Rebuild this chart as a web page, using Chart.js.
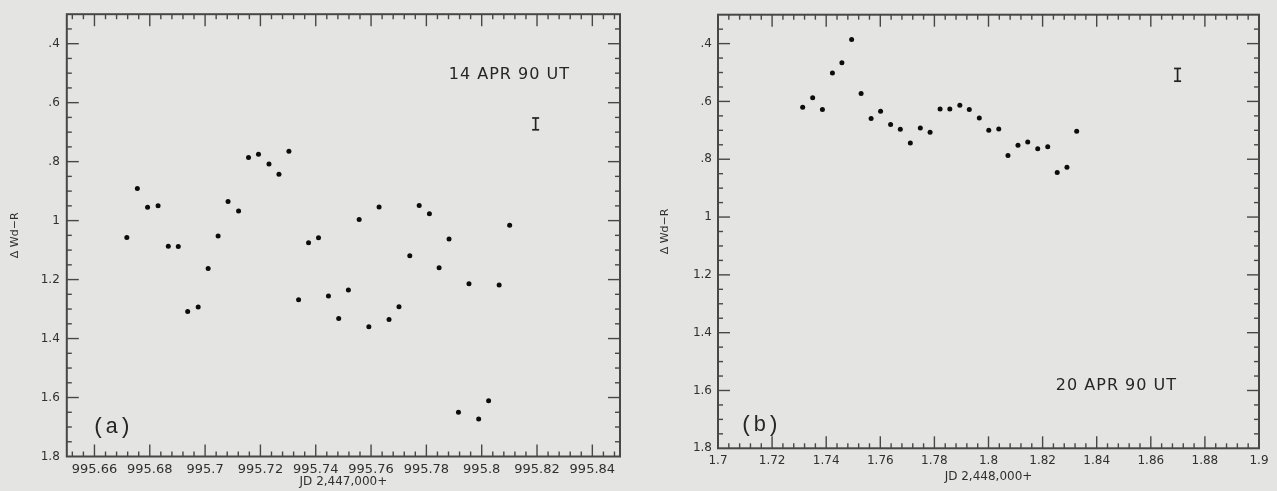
<!DOCTYPE html>
<html>
<head>
<meta charset="utf-8">
<script src="https://cdn.jsdelivr.net/npm/chart.js@4.4.1/dist/chart.umd.min.js"></script>
<style>
  html, body { margin: 0; padding: 0; background: #e4e4e2; width: 1277px; height: 491px; overflow: hidden; }
  canvas { position: absolute; top: 0; filter: blur(0.35px); }
  #panelA { left: 0; }
  #panelB { left: 640px; }
</style>
</head>
<body>
<canvas id="panelA" width="640" height="491"></canvas>
<canvas id="panelB" width="637" height="491"></canvas>
<script>
// (a) 14 Apr 1990 — time (JD − 2,447,000) and differential colour Δ(Wd−R)
const jdA = [995.6717, 995.6755, 995.6792, 995.6830, 995.6867, 995.6903, 995.6937, 995.6975, 995.7011, 995.7047,
             995.7083, 995.7121, 995.7157, 995.7193, 995.7231, 995.7267, 995.7303, 995.7338, 995.7374, 995.7410,
             995.7446, 995.7483, 995.7518, 995.7557, 995.7592, 995.7629, 995.7665, 995.7701, 995.7740, 995.7774,
             995.7811, 995.7846, 995.7882, 995.7916, 995.7954, 995.7989, 995.8025, 995.8063, 995.8101];
const magA = [1.057, 0.891, 0.955, 0.950, 1.087, 1.088, 1.308, 1.293, 1.162, 1.052,
              0.935, 0.967, 0.786, 0.775, 0.808, 0.843, 0.765, 1.268, 1.075, 1.058,
              1.256, 1.332, 1.235, 0.996, 1.360, 0.954, 1.335, 1.292, 1.119, 0.949,
              0.977, 1.160, 1.062, 1.650, 1.214, 1.673, 1.611, 1.218, 1.016];

// (b) 20 Apr 1990 — time (JD − 2,448,000) and Δ(Wd−R)
const jdB = [1.7313, 1.7350, 1.7386, 1.7423, 1.7458, 1.7494, 1.7529, 1.7566, 1.7601, 1.7638,
             1.7674, 1.7711, 1.7748, 1.7784, 1.7821, 1.7857, 1.7894, 1.7929, 1.7966, 1.8001,
             1.8038, 1.8072, 1.8109, 1.8145, 1.8182, 1.8219, 1.8254, 1.8290, 1.8326];
const magB = [0.620, 0.587, 0.628, 0.502, 0.466, 0.386, 0.573, 0.659, 0.634, 0.680,
              0.696, 0.744, 0.692, 0.707, 0.626, 0.626, 0.613, 0.628, 0.657, 0.700,
              0.695, 0.787, 0.752, 0.740, 0.764, 0.757, 0.846, 0.828, 0.703];

// Labelled tick values
const xTicksA = [995.66, 995.68, 995.70, 995.72, 995.74, 995.76, 995.78, 995.80, 995.82, 995.84];
const xTicksB = [1.70, 1.72, 1.74, 1.76, 1.78, 1.80, 1.82, 1.84, 1.86, 1.88, 1.90];
const yTicks  = [0.4, 0.6, 0.8, 1.0, 1.2, 1.4, 1.6, 1.8];

// Typical error bar: [x, centre, half-height]
const errA = [995.8195, 0.672, 0.020];
const errB = [1.8699, 0.508, 0.022];

// In-plot labels: [text, x, y]
const dateA = ['14 APR 90 UT', 995.810, 0.504];
const dateB = ['20 APR 90 UT', 1.8473, 1.5835];
const tagA  = ['(a)', 995.6663, 1.700];
const tagB  = ['(b)', 1.7155, 1.719];

const INK = '#474747';
const LABEL = '#303030';

// Box frame with inward major/minor ticks on all four sides, plus error bar and labels
const frameTicks = {
  id: 'frameTicks',
  afterDatasetsDraw(chart, args, o) {
    const { ctx, chartArea: a, scales: { x, y } } = chart;
    const seg = (x1, y1, x2, y2) => { ctx.beginPath(); ctx.moveTo(x1, y1); ctx.lineTo(x2, y2); ctx.stroke(); };
    ctx.save();
    ctx.strokeStyle = INK;
    ctx.lineWidth = 1.4;

    const kx0 = Math.ceil(x.min / o.xMinor - 1e-6), kx1 = Math.floor(x.max / o.xMinor + 1e-6);
    for (let k = kx0; k <= kx1; k++) {
      const px = x.getPixelForValue(k * o.xMinor);
      if (px <= a.left + 1.5 || px >= a.right - 1.5) continue;
      const len = k % o.xEvery === 0 ? 12 : 5;
      seg(px, a.bottom, px, a.bottom - len);
      seg(px, a.top, px, a.top + len);
    }
    const ky0 = Math.ceil(y.min / o.yMinor - 1e-6), ky1 = Math.floor(y.max / o.yMinor + 1e-6);
    for (let k = ky0; k <= ky1; k++) {
      const py = y.getPixelForValue(k * o.yMinor);
      if (py <= a.top + 1.5 || py >= a.bottom - 1.5) continue;
      const len = k % o.yEvery === 0 ? 12 : 5;
      seg(a.left, py, a.left + len, py);
      seg(a.right, py, a.right - len, py);
    }

    ctx.lineWidth = 2;
    ctx.strokeRect(a.left, a.top, a.right - a.left, a.bottom - a.top);

    // error bar
    const [ex, ec, eh] = o.err;
    const bx = x.getPixelForValue(ex);
    const t = y.getPixelForValue(ec - eh), b = y.getPixelForValue(ec + eh);
    ctx.strokeStyle = '#222';
    ctx.lineWidth = 1.7;
    seg(bx, t, bx, b);
    seg(bx - 3.5, t, bx + 3.5, t);
    seg(bx - 3.5, b, bx + 3.5, b);

    // labels
    ctx.fillStyle = '#262626';
    ctx.textAlign = 'center';
    ctx.textBaseline = 'middle';
    ctx.font = '16px "DejaVu Sans", sans-serif';
    ctx.letterSpacing = '1px';
    ctx.fillText(o.date[0], x.getPixelForValue(o.date[1]), y.getPixelForValue(o.date[2]));
    ctx.letterSpacing = '0px';
    ctx.font = '22px "Liberation Mono", "DejaVu Sans Mono", monospace';
    ctx.fillText(o.tag[0], x.getPixelForValue(o.tag[1]), y.getPixelForValue(o.tag[2]));
    ctx.restore();
  }
};

const fmtY = v => { let s = String(+v.toFixed(2)); return s.startsWith('0.') ? s.slice(1) : s; };
const fmtX = v => String(+v.toFixed(2));

function panel(id, jd, mag, cfg) {
  new Chart(document.getElementById(id), {
    type: 'scatter',
    data: {
      datasets: [{
        data: jd.map((t, i) => ({ x: t, y: mag[i] })),
        pointRadius: 2.5,
        pointHoverRadius: 2.5,
        backgroundColor: '#0c0c0c',
        borderWidth: 0,
        showLine: false
      }]
    },
    options: {
      responsive: false,
      animation: false,
      devicePixelRatio: 1,
      layout: { padding: { top: cfg.top, right: cfg.right, left: 0, bottom: 0 } },
      plugins: {
        legend: { display: false },
        tooltip: { enabled: false },
        frameTicks: {
          xMinor: 0.004, xEvery: 5, yMinor: 0.05, yEvery: 4,
          err: cfg.err, date: cfg.date, tag: cfg.tag
        }
      },
      scales: {
        x: {
          type: 'linear',
          min: cfg.xMin, max: cfg.xMax,
          afterBuildTicks: s => { s.ticks = cfg.xTicks.map(v => ({ value: v })); },
          afterFit: s => { s.height = cfg.xAxisH; },
          grid: { display: false, drawTicks: false },
          border: { display: false },
          ticks: {
            autoSkip: false, maxRotation: 0, padding: 5,
            color: LABEL, font: { family: 'DejaVu Sans', size: cfg.xFont },
            callback: fmtX
          },
          title: {
            display: true, text: cfg.xTitle, color: LABEL,
            font: { family: 'DejaVu Sans', size: 12 },
            padding: { top: 0, bottom: cfg.xTitlePad }
          }
        },
        y: {
          type: 'linear',
          reverse: true,
          min: 0.3, max: 1.8,
          afterBuildTicks: s => { s.ticks = yTicks.map(v => ({ value: v })); },
          afterFit: s => { s.width = cfg.yAxisW; },
          grid: { display: false, drawTicks: false },
          border: { display: false },
          ticks: {
            autoSkip: false, padding: cfg.yPad,
            color: LABEL, font: { family: 'DejaVu Sans', size: 12 },
            callback: fmtY
          },
          title: {
            display: true, text: 'Δ Wd−R', color: LABEL,
            font: { family: 'DejaVu Sans', size: 11 },
            padding: { top: cfg.yTitlePad, bottom: 0 }
          }
        }
      }
    },
    plugins: [frameTicks]
  });
}

panel('panelA', jdA, magA, {
  top: 10, right: 20, xAxisH: 34.5, yAxisW: 66.8, yPad: 7,
  xMin: 995.65, xMax: 995.85, xTicks: xTicksA, xFont: 13,
  xTitle: 'JD 2,447,000+', xTitlePad: 1.5, yTitlePad: 8.4,
  err: errA, date: dateA, tag: tagA
});

panel('panelB', jdB, magB, {
  top: 14.7, right: 18, xAxisH: 42.7, yAxisW: 78, yPad: 6,
  xMin: 1.7, xMax: 1.9, xTicks: xTicksB, xFont: 12,
  xTitle: 'JD 2,448,000+', xTitlePad: 7.1, yTitlePad: 18.4,
  err: errB, date: dateB, tag: tagB
});
</script>
</body>
</html>
